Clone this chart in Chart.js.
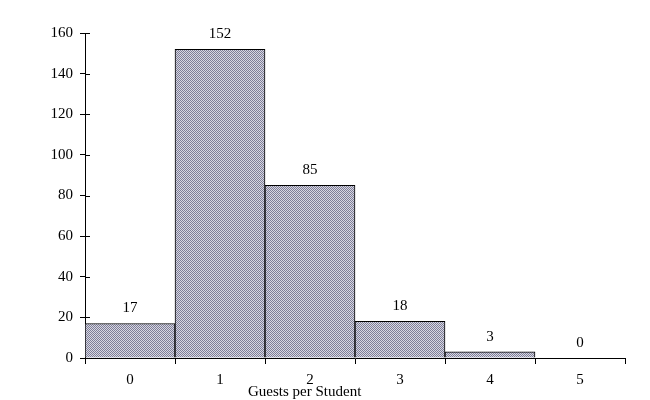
<!DOCTYPE html>
<html>
<head>
<meta charset="utf-8">
<script src="https://cdn.jsdelivr.net/npm/chart.js@4"></script>
<style>
  html, body { margin: 0; padding: 0; background: #ffffff; }
  canvas { display: block; }
</style>
</head>
<body>
<canvas id="c" width="650" height="400"></canvas>
<script>
const categories = ['0', '1', '2', '3', '4', '5'];
const counts = [17, 152, 85, 18, 3, 0];
const yTicks = [0, 20, 40, 60, 80, 100, 120, 140, 160];
const xTitle = 'Guests per Student';

const FONT = '"Liberation Serif", "Times New Roman", serif';

function checker() {
  const p = document.createElement('canvas');
  p.width = 2; p.height = 2;
  const g = p.getContext('2d');
  g.fillStyle = '#d8d8e2'; g.fillRect(0, 0, 2, 2);
  g.fillStyle = '#7e7e98'; g.fillRect(0, 0, 1, 1); g.fillRect(1, 1, 1, 1);
  return g.createPattern(p, 'repeat');
}

const extras = {
  id: 'extras',
  afterDatasetsDraw(chart) {
    const ctx = chart.ctx;
    const meta = chart.getDatasetMeta(0);
    ctx.save();
    ctx.fillStyle = '#000';
    ctx.font = '15px ' + FONT;
    ctx.textAlign = 'center';
    ctx.textBaseline = 'middle';
    meta.data.forEach((bar, i) => {
      ctx.fillText(String(counts[i]), bar.x, bar.y - 15);
    });
    ctx.restore();
  },
  afterDraw(chart) {
    const ctx = chart.ctx;
    const y = chart.scales.y;
    const x = chart.scales.x;
    ctx.save();
    ctx.strokeStyle = '#000';
    ctx.lineWidth = 1;
    ctx.beginPath();
    yTicks.forEach(v => {
      const py = Math.round(y.getPixelForValue(v)) + 0.5;
      ctx.moveTo(x.left, py);
      ctx.lineTo(x.left + 5, py);
    });
    ctx.stroke();
    ctx.fillStyle = '#000';
    ctx.font = '15px ' + FONT;
    ctx.textAlign = 'left';
    ctx.textBaseline = 'alphabetic';
    ctx.fillText(xTitle, 248, 396);
    ctx.restore();
  }
};

new Chart(document.getElementById('c'), {
  type: 'bar',
  data: {
    labels: categories,
    datasets: [{
      data: counts,
      backgroundColor: checker(),
      borderColor: '#000',
      borderWidth: 1,
      barPercentage: 1,
      categoryPercentage: 1
    }]
  },
  options: {
    responsive: false,
    animation: false,
    devicePixelRatio: 1,
    layout: { padding: { top: 33, right: 25, left: 0, bottom: 0 } },
    plugins: { legend: { display: false }, tooltip: { enabled: false } },
    scales: {
      x: {
        offset: true,
        grid: { offset: true, drawOnChartArea: false, tickLength: 6, color: '#000', lineWidth: 1 },
        border: { color: '#000', width: 1 },
        ticks: { color: '#000', font: { family: FONT, size: 15 }, padding: 7, maxRotation: 0 },
        afterFit(s) { s.height = 42; }
      },
      y: {
        min: 0,
        max: 160,
        afterBuildTicks(s) { s.ticks = yTicks.map(v => ({ value: v })); },
        grid: { drawOnChartArea: false, tickLength: 5, color: '#000', lineWidth: 1 },
        border: { color: '#000', width: 1 },
        ticks: { color: '#000', font: { family: FONT, size: 15 }, padding: 7 },
        afterFit(s) { s.width = 85; }
      }
    }
  },
  plugins: [extras]
});
</script>
</body>
</html>
